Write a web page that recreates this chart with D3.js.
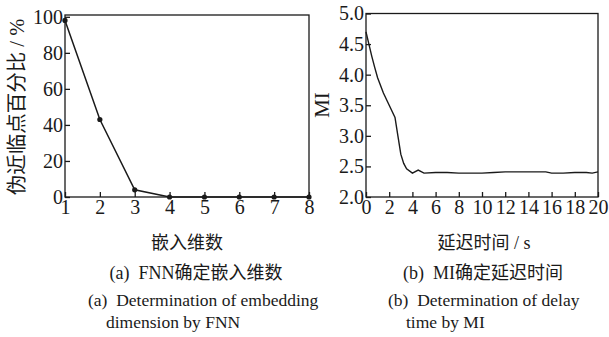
<!DOCTYPE html>
<html>
<head>
<meta charset="utf-8">
<script src="https://cdn.jsdelivr.net/npm/d3@7"></script>
<style>
  body { margin: 0; background: #fff; }
  text { font-family: "Liberation Serif", "Noto Sans CJK SC", serif; fill: #1a1a1a; white-space: pre; }
</style>
</head>
<body>
<div class="chart"></div>
<script>
// ============================================================================
// Data
// ============================================================================

// (a) FNN: embedding dimension vs false nearest neighbour percentage
var dims = [1, 2, 3, 4, 5, 6, 7, 8];
var fnnPct = [98, 43, 4, 0, 0, 0, 0, 0];
var fnnYTicks = [0, 20, 40, 60, 80, 100];

// (b) MI: delay time vs mutual information
var lags = [0, 0.25, 0.5, 0.75, 1, 1.5, 2, 2.5, 2.75, 3, 3.25, 3.5, 4, 4.5, 5, 6, 7, 8, 9, 10,
  11, 12, 13, 14, 15, 15.5, 16, 17, 18, 19, 19.5, 20];
var miVals = [4.70, 4.50, 4.30, 4.12, 3.95, 3.70, 3.50, 3.30, 3.00, 2.70, 2.55, 2.46, 2.39, 2.44, 2.39, 2.40,
  2.40, 2.39, 2.39, 2.39, 2.40, 2.41, 2.41, 2.41, 2.41, 2.41, 2.39, 2.39, 2.40, 2.40, 2.39, 2.41];
var miXTicks = [0, 2, 4, 6, 8, 10, 12, 14, 16, 18, 20];
var miYTicks = [2.0, 2.5, 3.0, 3.5, 4.0, 4.5, 5.0];

var ink = '#1a1a1a';

// ============================================================================
// Create SVG
// ============================================================================

var svg = d3.select('.chart')
  .append('svg')
  .attr('width', 609)
  .attr('height', 337);

// draw a framed panel with inward ticks
function drawPanel(box, xScale, yScale, xTicks, yTicks, xFmt, yFmt) {
  var g = svg.append('g');

  var xAxis = g.append('g')
    .attr('transform', `translate(0, ${box.bottom})`)
    .call(d3.axisBottom(xScale).tickValues(xTicks).tickFormat(xFmt).tickSizeInner(-5).tickSizeOuter(0).tickPadding(3));
  var yAxis = g.append('g')
    .attr('transform', `translate(${box.left}, 0)`)
    .call(d3.axisLeft(yScale).tickValues(yTicks).tickFormat(yFmt).tickSizeInner(-5).tickSizeOuter(0).tickPadding(2));

  [xAxis, yAxis].forEach(function(a) {
    a.select('.domain').remove();
    a.selectAll('line').attr('stroke', ink).attr('stroke-width', 1.3);
    a.selectAll('text')
      .attr('fill', ink)
      .style('font-family', '"Liberation Serif", serif')
      .style('font-size', '20px');
  });
  xAxis.selectAll('text').attr('dy', '0.72em');

  g.append('rect')
    .attr('x', box.left)
    .attr('y', box.top)
    .attr('width', box.right - box.left)
    .attr('height', box.bottom - box.top)
    .attr('fill', 'none')
    .attr('stroke', ink)
    .attr('stroke-width', 1.3);

  return g;
}

// ============================================================================
// Panel (a)
// ============================================================================

var boxA = { left: 65, right: 309, top: 15, bottom: 197 };
var xA = d3.scaleLinear().domain([1, 8]).range([boxA.left, boxA.right]);
var yA = d3.scaleLinear().domain([0, 101]).range([boxA.bottom, boxA.top]);

var gA = drawPanel(boxA, xA, yA, dims, fnnYTicks, d3.format('d'), d3.format('d'));

var fnnData = dims.map((d, i) => ({ x: d, y: fnnPct[i] }));

gA.append('path')
  .datum(fnnData)
  .attr('fill', 'none')
  .attr('stroke', ink)
  .attr('stroke-width', 1.5)
  .attr('d', d3.line().x(d => xA(d.x)).y(d => yA(d.y)));

gA.selectAll('circle')
  .data(fnnData)
  .enter()
    .append('circle')
    .attr('cx', d => xA(d.x))
    .attr('cy', d => yA(d.y))
    .attr('r', 2.6)
    .attr('fill', ink);

// ============================================================================
// Panel (b)
// ============================================================================

var boxB = { left: 366, right: 598, top: 13.5, bottom: 197 };
var xB = d3.scaleLinear().domain([0, 20]).range([boxB.left, boxB.right]);
var yB = d3.scaleLinear().domain([2, 5]).range([boxB.bottom, boxB.top]);

var gB = drawPanel(boxB, xB, yB, miXTicks, miYTicks, d3.format('d'), d3.format('.1f'));

gB.append('path')
  .datum(lags.map((d, i) => ({ x: d, y: miVals[i] })))
  .attr('fill', 'none')
  .attr('stroke', ink)
  .attr('stroke-width', 1.4)
  .attr('d', d3.line().x(d => xB(d.x)).y(d => yB(d.y)));

// ============================================================================
// Titles and captions
// ============================================================================

function label(x, y, str, size, rotate) {
  var t = svg.append('text')
    .attr('text-anchor', 'middle')
    .style('font-size', size + 'px')
    .text(str);
  if (rotate) {
    t.attr('transform', `translate(${x}, ${y}) rotate(-90)`);
  } else {
    t.attr('x', x).attr('y', y);
  }
  return t;
}

label(24, 107, '伪近临点百分比 / %', 20.5, true);
label(329, 105, 'MI', 21, true);

label(187, 249, '嵌入维数', 18);
label(484, 249, '延迟时间 / s', 18);

label(196, 279, '(a)  FNN确定嵌入维数', 18);
label(483, 279, '(b)  MI确定延迟时间', 18);

svg.append('text').attr('x', 88).attr('y', 306).style('font-size', '17.5px').text('(a)  Determination of embedding');
svg.append('text').attr('x', 106).attr('y', 328).style('font-size', '17.5px').text('dimension by FNN');
svg.append('text').attr('x', 388).attr('y', 306).style('font-size', '17.5px').text('(b)  Determination of delay');
svg.append('text').attr('x', 406).attr('y', 328).style('font-size', '17.5px').text('time by MI');
</script>
</body>
</html>
